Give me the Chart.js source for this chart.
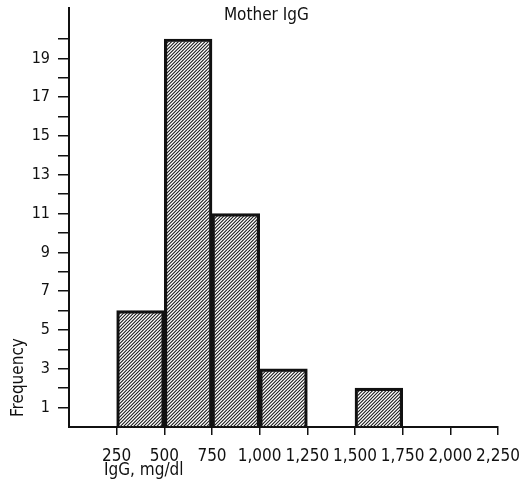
<!DOCTYPE html>
<html>
<head>
<meta charset="utf-8">
<script src="https://cdn.jsdelivr.net/npm/chart.js@4.4.1/dist/chart.umd.min.js"></script>
<style>
  html, body { margin: 0; padding: 0; background: #fff; }
  #wrap { width: 520px; height: 491px; }
</style>
</head>
<body>
<div id="wrap"><canvas id="histChart" width="520" height="491"></canvas></div>
<script>
// bins of 250 mg/dl, value = bin centre
const binStarts = [250, 500, 750, 1000, 1500];
const binWidth = 250;
const frequency = [6, 20, 11, 3, 2];
const xTicks = [250, 500, 750, 1000, 1250, 1500, 1750, 2000, 2250];
const yLabelTicks = [1, 3, 5, 7, 9, 11, 13, 15, 17, 19];

const FONT = '"Liberation Sans Narrow", "DejaVu Sans Condensed", sans-serif';

function hatchPattern() {
    // "/" hatching, 3 lines per 10px tile
    const n = 10;
    const c = document.createElement('canvas');
    c.width = n; c.height = n;
    const g = c.getContext('2d');
    g.strokeStyle = '#1a1a1a';
    g.lineWidth = 1.05;
    g.beginPath();
    for (let k = 0; k <= 6; k++) {
        const d = k * n / 3;
        g.moveTo(d + 1, -1); g.lineTo(d - n - 1, n + 1);
    }
    g.stroke();
    return g.createPattern(c, 'repeat');
}

const labelsPlugin = {
    id: 'labelsPlugin',
    afterDraw(chart) {
        const ctx = chart.ctx;
        const a = chart.chartArea;
        ctx.save();
        ctx.fillStyle = '#111';
        ctx.font = '17px ' + FONT;
        ctx.textAlign = 'center';
        ctx.textBaseline = 'middle';
        ctx.fillText('Mother IgG', a.left + (a.right - a.left) * 0.46, a.top + 8);

        ctx.textAlign = 'left';
        ctx.fillText('IgG, mg/dl', a.left + 35, a.bottom + 44);

        ctx.translate(19, a.bottom - 10);
        ctx.rotate(-Math.PI / 2);
        ctx.fillText('Frequency', 0, 0);
        ctx.restore();
    }
};

const ctx = document.getElementById('histChart');
new Chart(ctx.getContext('2d'), {
    type: 'bar',
    data: {
        datasets: [{
            label: 'Frequency',
            data: binStarts.map((s, i) => ({ x: s + binWidth / 2, y: frequency[i] })),
            backgroundColor: hatchPattern(),
            borderColor: '#111',
            borderWidth: 2.5,
            borderSkipped: 'bottom',
            barPercentage: 1,
            categoryPercentage: 1
        }]
    },
    options: {
        responsive: false,
        animation: false,
        layout: { padding: { top: 8, right: 22, left: 0, bottom: 0 } },
        plugins: {
            legend: { display: false },
            title: { display: false },
            tooltip: { enabled: false }
        },
        scales: {
            x: {
                type: 'linear',
                offset: false,
                min: 0,
                max: 2250,
                afterBuildTicks: s => { s.ticks = xTicks.map(v => ({ value: v })); },
                afterFit: s => { s.height = 64; s.paddingLeft = 0; s.paddingRight = 0; },
                ticks: {
                    autoSkip: false,
                    maxRotation: 0,
                    padding: 11,
                    color: '#111',
                    font: { family: FONT, size: 17 },
                    callback: v => v.toLocaleString('en-US')
                },
                grid: { offset: false, drawOnChartArea: false, drawTicks: true, tickLength: 8, color: '#111', lineWidth: 1.5 },
                border: { display: true, color: '#111', width: 2 }
            },
            y: {
                min: 0,
                max: 21.6,
                afterBuildTicks: s => {
                    const t = [];
                    for (let v = 1; v <= 20; v++) t.push({ value: v });
                    s.ticks = t;
                },
                afterFit: s => { s.width = 69; s.paddingTop = 0; s.paddingBottom = 0; },
                ticks: {
                    autoSkip: false,
                    padding: 8,
                    color: '#111',
                    font: { family: FONT, size: 16 },
                    callback: v => yLabelTicks.includes(v) ? String(v) : ''
                },
                grid: { drawOnChartArea: false, drawTicks: true, tickLength: 11, color: '#111', lineWidth: 1.5 },
                border: { display: true, color: '#111', width: 2 }
            }
        }
    },
    plugins: [labelsPlugin]
});
</script>
</body>
</html>
